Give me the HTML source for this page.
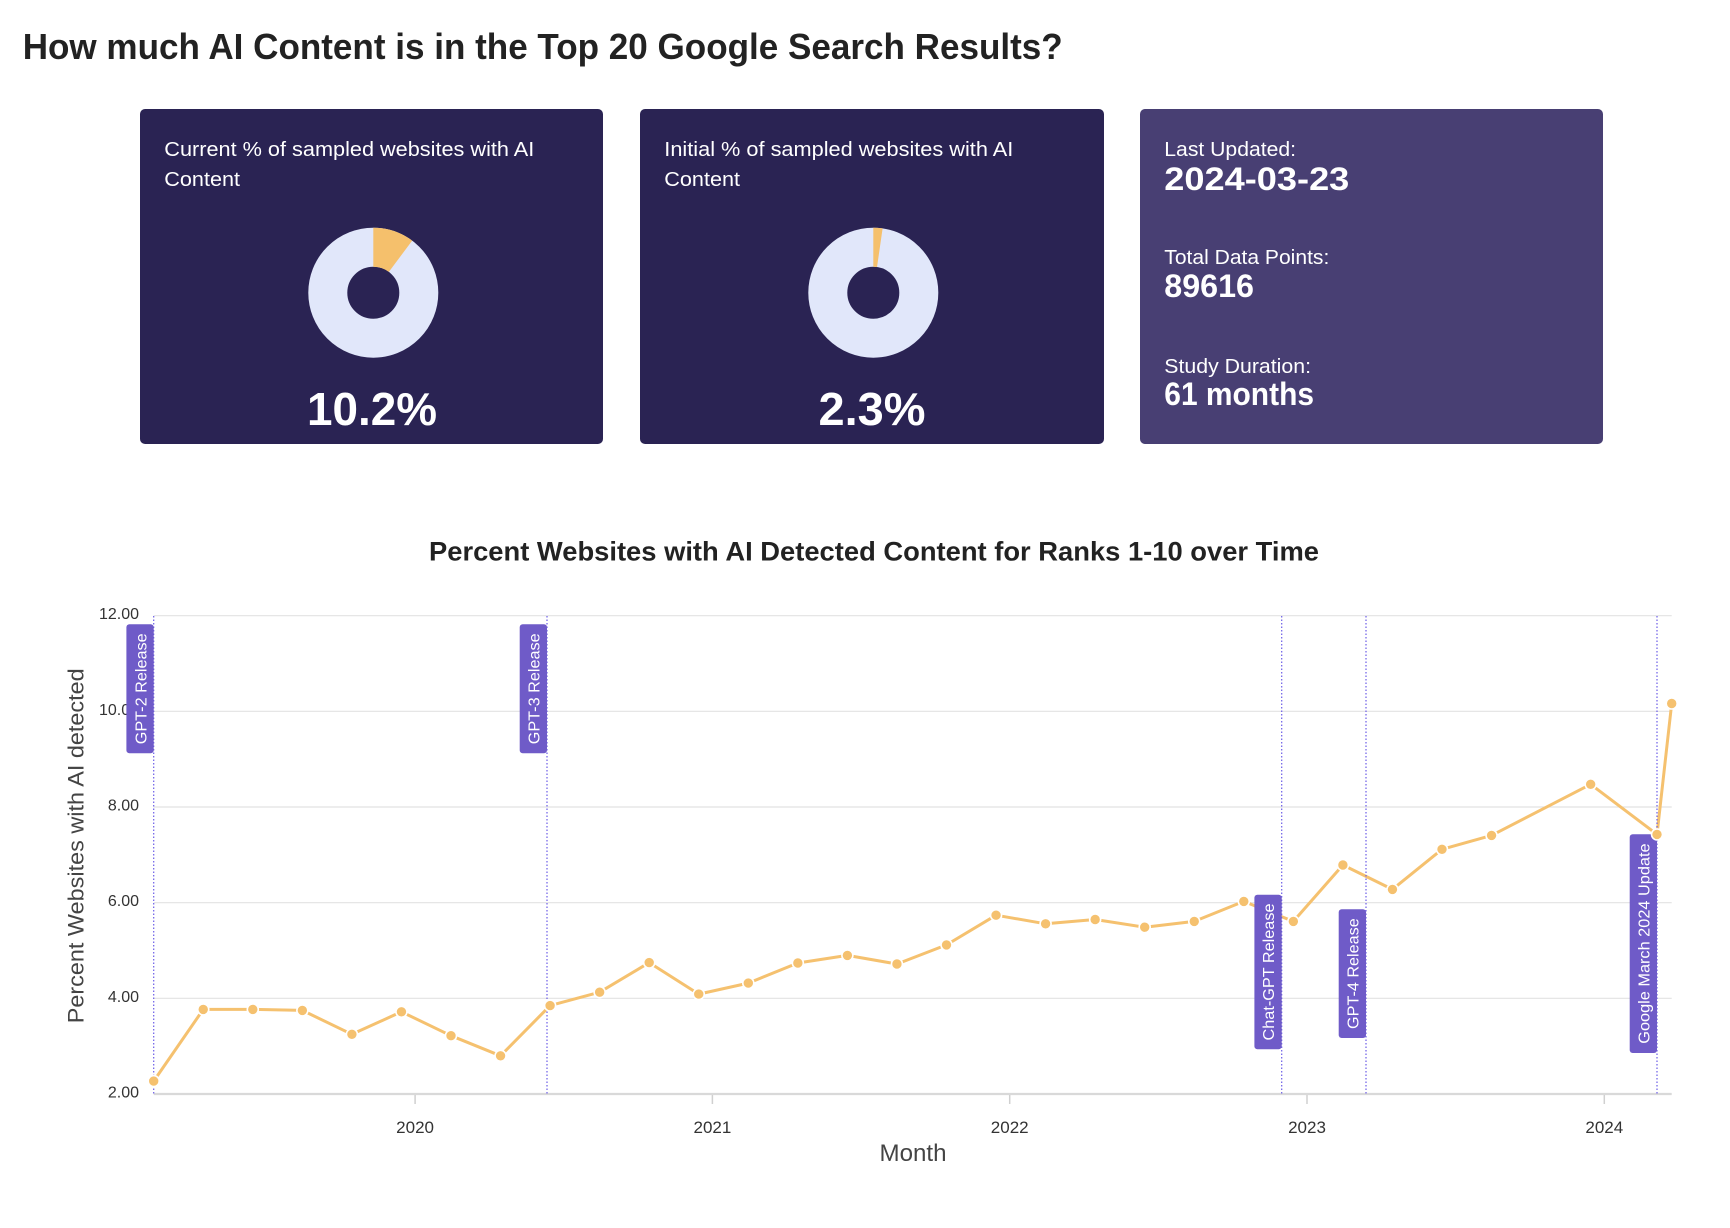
<!DOCTYPE html>
<html><head><meta charset="utf-8"><style>
html,body{margin:0;padding:0;background:#fff;}
svg{display:block;}
text{font-family:"Liberation Sans",Arial,sans-serif;}
</style></head><body>
<svg width="1730" height="1228" viewBox="0 0 1730 1228" xmlns="http://www.w3.org/2000/svg">
<rect x="0" y="0" width="1730" height="1228" fill="#fff"/>
<text x="22.7" y="59" font-size="36" font-weight="bold" fill="#222" textLength="1040" lengthAdjust="spacingAndGlyphs">How much AI Content is in the Top 20 Google Search Results?</text>

<!-- Cards -->
<rect x="140" y="109" width="463" height="335" rx="5" fill="#2a2353"/>
<rect x="640" y="109" width="464" height="335" rx="5" fill="#2a2353"/>
<rect x="1140" y="109" width="463" height="335" rx="5" fill="#483f73"/>

<text x="164.3" y="156" font-size="20" fill="#fff" textLength="370" lengthAdjust="spacingAndGlyphs">Current % of sampled websites with AI</text>
<text x="164.3" y="186" font-size="20" fill="#fff" textLength="75.7" lengthAdjust="spacingAndGlyphs">Content</text>
<text x="664.3" y="156" font-size="20" fill="#fff" textLength="349" lengthAdjust="spacingAndGlyphs">Initial % of sampled websites with AI</text>
<text x="664.3" y="186" font-size="20" fill="#fff" textLength="75.7" lengthAdjust="spacingAndGlyphs">Content</text>

<circle cx="373.3" cy="292.7" r="45.5" fill="none" stroke="#e1e7fa" stroke-width="39"/>
<circle cx="373.3" cy="292.7" r="45.5" fill="none" stroke="#f5c06c" stroke-width="39" stroke-dasharray="29.16 300" transform="rotate(-90 373.3 292.7)"/>
<circle cx="873.3" cy="292.7" r="45.5" fill="none" stroke="#e1e7fa" stroke-width="39"/>
<circle cx="873.3" cy="292.7" r="45.5" fill="none" stroke="#f5c06c" stroke-width="39" stroke-dasharray="6.58 300" transform="rotate(-90 873.3 292.7)"/>

<text x="372" y="425" text-anchor="middle" font-size="46" font-weight="bold" fill="#fff" textLength="130" lengthAdjust="spacingAndGlyphs">10.2%</text>
<text x="872" y="425" text-anchor="middle" font-size="46" font-weight="bold" fill="#fff" textLength="107" lengthAdjust="spacingAndGlyphs">2.3%</text>

<text x="1164.3" y="156" font-size="20" fill="#fff" textLength="131.7" lengthAdjust="spacingAndGlyphs">Last Updated:</text>
<text x="1164.3" y="190" font-size="32" font-weight="bold" fill="#fff" textLength="185" lengthAdjust="spacingAndGlyphs">2024-03-23</text>
<text x="1164.3" y="264" font-size="20" fill="#fff" textLength="165" lengthAdjust="spacingAndGlyphs">Total Data Points:</text>
<text x="1164.3" y="297" font-size="32" font-weight="bold" fill="#fff" textLength="89.7" lengthAdjust="spacingAndGlyphs">89616</text>
<text x="1164.3" y="373" font-size="20" fill="#fff" textLength="146.7" lengthAdjust="spacingAndGlyphs">Study Duration:</text>
<text x="1164.3" y="405" font-size="32" font-weight="bold" fill="#fff" textLength="149.7" lengthAdjust="spacingAndGlyphs">61 months</text>

<!-- Chart title -->
<text x="429" y="560.7" font-size="27" font-weight="bold" fill="#222" textLength="890" lengthAdjust="spacingAndGlyphs">Percent Websites with AI Detected Content for Ranks 1-10 over Time</text>

<!-- Gridlines -->
<g stroke="#e2e2e2" stroke-width="1.2">
<line x1="153.7" y1="615.7" x2="1671.7" y2="615.7"/>
<line x1="153.7" y1="711.3" x2="1671.7" y2="711.3"/>
<line x1="153.7" y1="807" x2="1671.7" y2="807"/>
<line x1="153.7" y1="902.7" x2="1671.7" y2="902.7"/>
<line x1="153.7" y1="998.3" x2="1671.7" y2="998.3"/>
</g>
<line x1="153.7" y1="1094" x2="1671.7" y2="1094" stroke="#d9d9d9" stroke-width="2.2"/>
<g stroke="#d0d0d0" stroke-width="1.5">
<line x1="415.1" y1="1095" x2="415.1" y2="1104"/>
<line x1="712.4" y1="1095" x2="712.4" y2="1104"/>
<line x1="1009.7" y1="1095" x2="1009.7" y2="1104"/>
<line x1="1307" y1="1095" x2="1307" y2="1104"/>
<line x1="1604.3" y1="1095" x2="1604.3" y2="1104"/>
</g>

<!-- Y tick labels -->
<g font-size="16" fill="#333" text-anchor="end">
<text x="139" y="619">12.00</text>
<text x="139" y="714.8">10.00</text>
<text x="139" y="810.5">8.00</text>
<text x="139" y="906.2">6.00</text>
<text x="139" y="1001.8">4.00</text>
<text x="139" y="1097.5">2.00</text>
</g>

<!-- X tick labels -->
<g font-size="17" fill="#333" text-anchor="middle">
<text x="415.1" y="1133">2020</text>
<text x="712.4" y="1133">2021</text>
<text x="1009.7" y="1133">2022</text>
<text x="1307" y="1133">2023</text>
<text x="1604.3" y="1133">2024</text>
</g>

<text transform="translate(83.3,845.8) rotate(-90)" text-anchor="middle" font-size="22" fill="#444" textLength="355" lengthAdjust="spacingAndGlyphs">Percent Websites with AI detected</text>
<text x="913" y="1161" text-anchor="middle" font-size="24" fill="#444" textLength="67" lengthAdjust="spacingAndGlyphs">Month</text>

<!-- Data line -->
<polyline fill="none" stroke="#f5c16f" stroke-width="3" stroke-linejoin="round" points="153.7,1081.1 203.25,1009.4 252.8,1009.4 302.35,1010.4 351.9,1034.3 401.45,1011.8 451,1035.7 500.55,1055.8 550.1,1005.6 599.65,992.2 649.2,962.6 698.75,994.1 748.3,983.1 797.85,963 847.4,955.4 896.95,964 946.5,944.9 996.05,915.2 1045.6,923.8 1095.15,919.5 1144.7,927.2 1194.25,921.4 1243.8,901.4 1293.35,921.4 1342.9,865 1392.45,889.4 1442,849.3 1491.55,835.4 1590.65,784.3 1657,834.4 1671.7,703.5"/>

<!-- Event lines -->
<g stroke="#6b5ce7" stroke-width="1.2" stroke-dasharray="1.5 2">
<line x1="153.7" y1="616" x2="153.7" y2="1094"/>
<line x1="547" y1="616" x2="547" y2="1094"/>
<line x1="1281.7" y1="616" x2="1281.7" y2="1094"/>
<line x1="1366" y1="616" x2="1366" y2="1094"/>
<line x1="1657" y1="616" x2="1657" y2="1094"/>
</g>

<!-- Event boxes -->
<g fill="#6f5bc8">
<rect x="126.4" y="624.3" width="27.3" height="129" rx="3"/>
<rect x="519.7" y="624.3" width="27.3" height="129" rx="3"/>
<rect x="1254.4" y="894.7" width="27.3" height="154.6" rx="3"/>
<rect x="1338.7" y="909.3" width="27.3" height="128.7" rx="3"/>
<rect x="1629.7" y="834.3" width="27.3" height="218.7" rx="3"/>
</g>
<g font-size="16" fill="#fff" text-anchor="middle">
<text transform="translate(146.4,688.8) rotate(-90)" textLength="111" lengthAdjust="spacingAndGlyphs">GPT-2 Release</text>
<text transform="translate(539.7,688.8) rotate(-90)" textLength="111" lengthAdjust="spacingAndGlyphs">GPT-3 Release</text>
<text transform="translate(1274.2,972) rotate(-90)" textLength="137" lengthAdjust="spacingAndGlyphs">Chat-GPT Release</text>
<text transform="translate(1358.5,973.6) rotate(-90)" textLength="110.7" lengthAdjust="spacingAndGlyphs">GPT-4 Release</text>
<text transform="translate(1649.5,943.6) rotate(-90)" textLength="200.3" lengthAdjust="spacingAndGlyphs">Google March 2024 Update</text>
</g>

<!-- Markers -->
<g fill="#f5c16f" stroke="#fff" stroke-width="1.6">
<circle cx="153.7" cy="1081.1" r="5.5"/>
<circle cx="203.25" cy="1009.4" r="5.5"/>
<circle cx="252.8" cy="1009.4" r="5.5"/>
<circle cx="302.35" cy="1010.4" r="5.5"/>
<circle cx="351.9" cy="1034.3" r="5.5"/>
<circle cx="401.45" cy="1011.8" r="5.5"/>
<circle cx="451" cy="1035.7" r="5.5"/>
<circle cx="500.55" cy="1055.8" r="5.5"/>
<circle cx="550.1" cy="1005.6" r="5.5"/>
<circle cx="599.65" cy="992.2" r="5.5"/>
<circle cx="649.2" cy="962.6" r="5.5"/>
<circle cx="698.75" cy="994.1" r="5.5"/>
<circle cx="748.3" cy="983.1" r="5.5"/>
<circle cx="797.85" cy="963" r="5.5"/>
<circle cx="847.4" cy="955.4" r="5.5"/>
<circle cx="896.95" cy="964" r="5.5"/>
<circle cx="946.5" cy="944.9" r="5.5"/>
<circle cx="996.05" cy="915.2" r="5.5"/>
<circle cx="1045.6" cy="923.8" r="5.5"/>
<circle cx="1095.15" cy="919.5" r="5.5"/>
<circle cx="1144.7" cy="927.2" r="5.5"/>
<circle cx="1194.25" cy="921.4" r="5.5"/>
<circle cx="1243.8" cy="901.4" r="5.5"/>
<circle cx="1293.35" cy="921.4" r="5.5"/>
<circle cx="1342.9" cy="865" r="5.5"/>
<circle cx="1392.45" cy="889.4" r="5.5"/>
<circle cx="1442" cy="849.3" r="5.5"/>
<circle cx="1491.55" cy="835.4" r="5.5"/>
<circle cx="1590.65" cy="784.3" r="5.5"/>
<circle cx="1657" cy="834.4" r="5.5"/>
<circle cx="1671.7" cy="703.5" r="5.5"/>
</g>
</svg>
</body></html>
